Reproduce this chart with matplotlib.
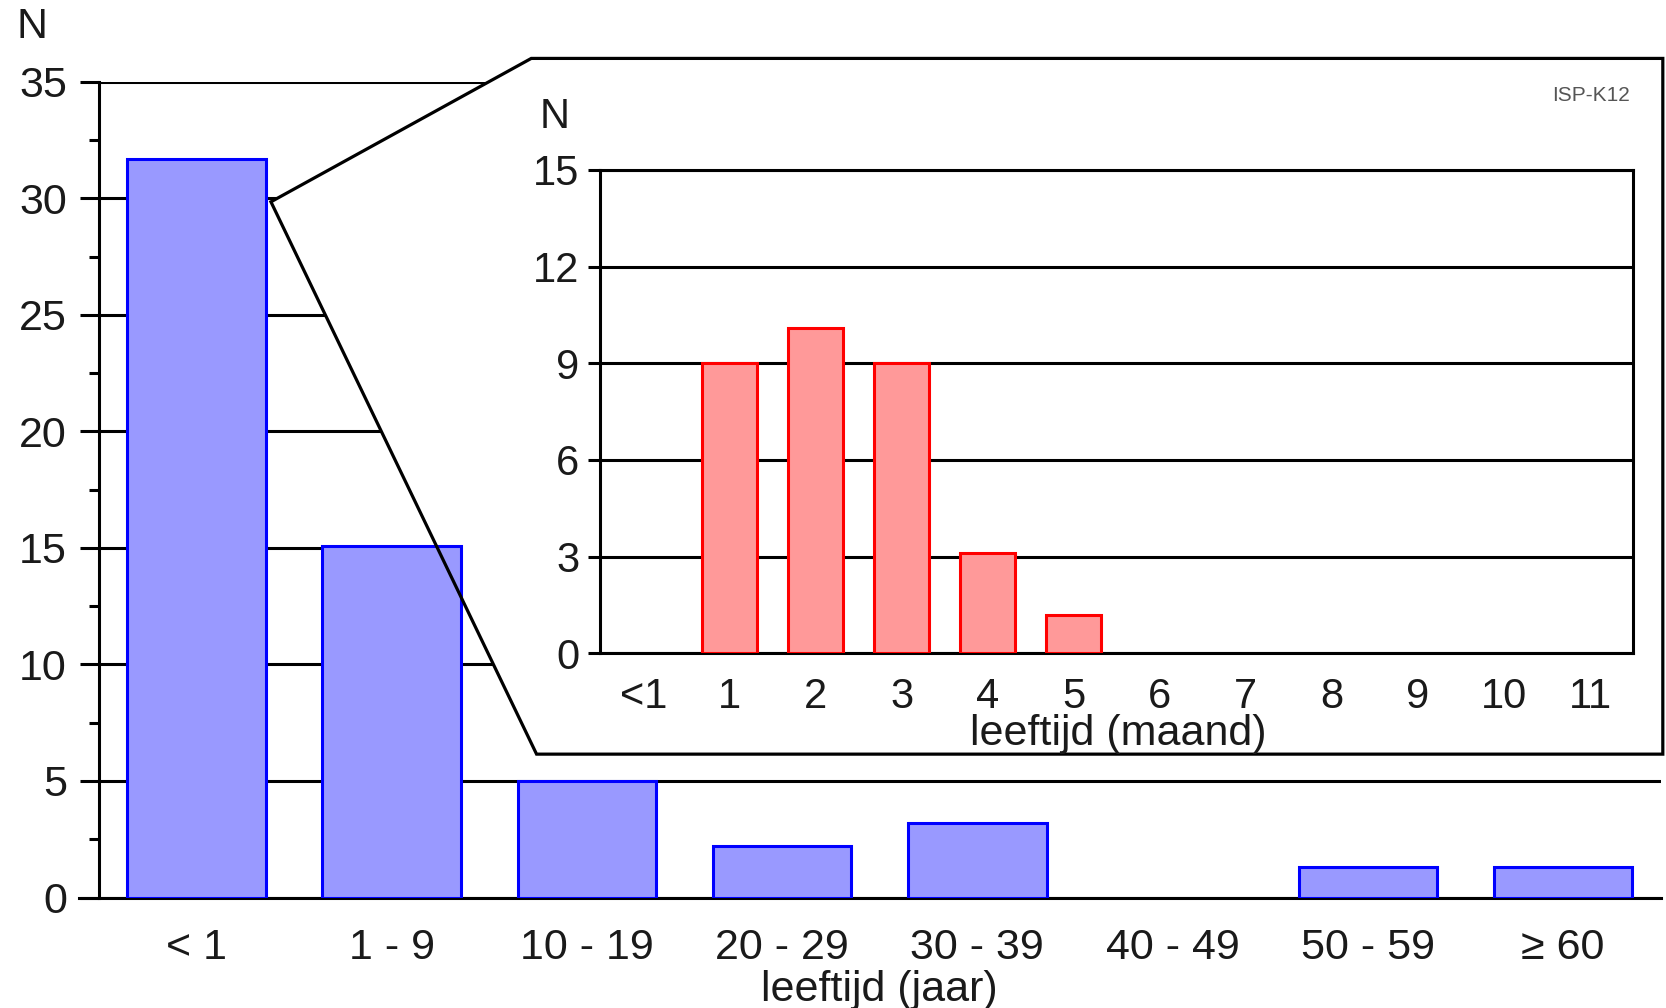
import matplotlib.pyplot as plt
from matplotlib.patches import Polygon
import numpy as np

plt.rcParams['font.family'] = ['Liberation Sans', 'DejaVu Sans']

# main chart: age in years
jaar_labels = ['< 1', '1 - 9', '10 - 19', '20 - 29', '30 - 39', '40 - 49', '50 - 59', '\u2265 60']
jaar_n = [31.7, 15.1, 5.0, 2.2, 3.2, 0.0, 1.3, 1.3]

# inset: age in months (first year)
maand_labels = ['<1', '1', '2', '3', '4', '5', '6', '7', '8', '9', '10', '11']
maand_n = [0, 9, 10.1, 9, 3.1, 1.2, 0, 0, 0, 0, 0, 0]

W, H = 1568.0, 949.0  # layout measured on the reference
def fx(x): return x / W
def fy(y): return 1 - y / H

fig = plt.figure(figsize=(16.66, 10.08), dpi=100)
txt = '#1a1a1a'

# ---- main axes
ax = fig.add_axes([fx(93), fy(845), fx(1563) - fx(93), fy(77) - fy(845)])
xs = np.arange(len(jaar_labels))
bars = ax.bar(xs, jaar_n, width=0.71, color='#9999ff', edgecolor='#0000ff', linewidth=2.2, zorder=3)
for b, v in zip(bars, jaar_n):
    if v == 0:
        b.set_visible(False)
ax.set_xlim(-0.5, len(jaar_labels) - 0.5)
ax.set_ylim(0, 35)
ax.set_yticks(np.arange(0, 36, 5))
ax.set_yticks(np.arange(2.5, 35, 5), minor=True)
ax.yaxis.grid(True, which='major', color='black', linewidth=2.2)
ax.set_axisbelow(True)
ax.set_xticks(xs)
ax.set_xticklabels(jaar_labels)
ax.tick_params(axis='x', length=0, pad=22, labelsize=31, labelcolor=txt)
ax.tick_params(axis='y', which='major', length=14, width=2.2, pad=9, labelsize=31, labelcolor=txt)
ax.tick_params(axis='y', which='minor', length=7, width=2.2)
for s in ['top', 'right']:
    ax.spines[s].set_visible(False)
for s in ['left', 'bottom']:
    ax.spines[s].set_linewidth(2.2)
    ax.spines[s].set_zorder(2.5)
ax.spines['bottom'].set_bounds(-0.6, len(jaar_labels) - 0.5)

fig.text(fx(30), fy(25), 'N', fontsize=31, color=txt, ha='center', va='center')
fig.text(fx(828), fy(913), 'leeftijd (jaar)', fontsize=31, color=txt, ha='center', va='top')

# ---- zoom callout: white shape over the gridlines, under the bars
pts = [(fx(255), fy(190)), (fx(500), fy(55)), (fx(1565), fy(55)),
       (fx(1565), fy(710)), (fx(505), fy(710))]
ax.add_patch(Polygon(pts, closed=True, transform=fig.transFigure, clip_on=False,
                     facecolor='white', edgecolor='none', zorder=2))
ax.add_patch(Polygon(pts, closed=True, transform=fig.transFigure, clip_on=False,
                     facecolor='none', edgecolor='black', linewidth=2.3,
                     joinstyle='miter', zorder=4))

# ---- inset axes
ins = fig.add_axes([fx(565), fy(615), fx(1537) - fx(565), fy(160) - fy(615)], zorder=3)
ins.patch.set_facecolor('white')
xm = np.arange(len(maand_labels))
mbars = ins.bar(xm, maand_n, width=0.64, color='#ff9999', edgecolor='#ff0000', linewidth=2.2, zorder=3)
for b, v in zip(mbars, maand_n):
    if v == 0:
        b.set_visible(False)
ins.set_xlim(-0.5, len(maand_labels) - 0.5)
ins.set_ylim(0, 15)
ins.set_yticks(np.arange(0, 16, 3))
ins.yaxis.grid(True, color='black', linewidth=2.2)
ins.set_axisbelow(True)
ins.set_xticks(xm)
ins.set_xticklabels(maand_labels)
ins.tick_params(axis='x', length=0, pad=17, labelsize=30, labelcolor=txt)
ins.tick_params(axis='y', length=9, width=2.2, pad=6, labelsize=30, labelcolor=txt)
for s in ins.spines.values():
    s.set_linewidth(2.2)

fig.text(fx(522), fy(110), 'N', fontsize=30, color=txt, ha='center', va='center', zorder=4)
fig.text(fx(1052), fy(672), 'leeftijd (maand)', fontsize=31, color=txt, ha='center', va='top', zorder=4)
fig.text(fx(1497), fy(90), 'ISP-K12', fontsize=15, color='#555555', ha='center', va='center', zorder=4)

fig.savefig('out.png', dpi=100, facecolor='white')
